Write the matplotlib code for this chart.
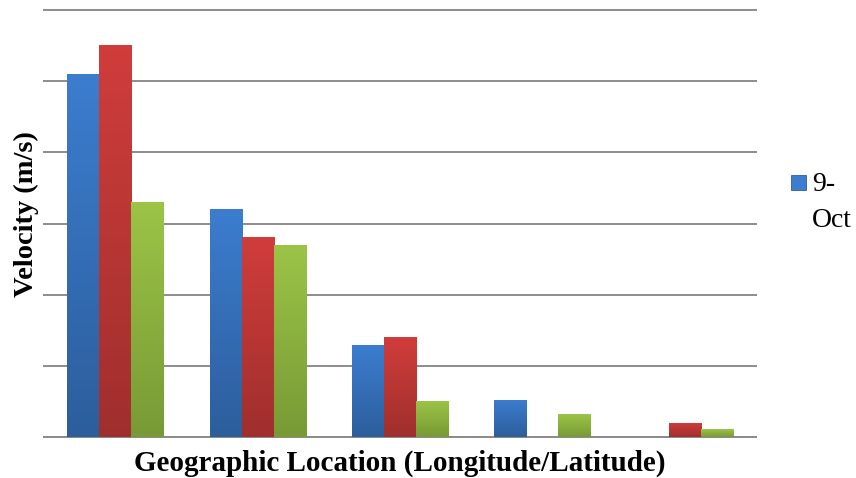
import numpy as np
import matplotlib.pyplot as plt
from matplotlib.patches import Rectangle
from matplotlib.colors import LinearSegmentedColormap

plt.switch_backend('agg')

# Velocity readings per location, one list per series
locations = ['1', '2', '3', '4', '5']
blue_vals = [5.10, 3.20, 1.29, 0.52, 0.0]
red_vals = [5.51, 2.81, 1.40, 0.0, 0.20]
green_vals = [3.30, 2.70, 0.51, 0.32, 0.11]
legend_label = '9-\nOct'

# light (top) -> dark (bottom) shading for each series
shades = [
    ('#3c7dcf', '#2c5e9c'),
    ('#d03d3b', '#9f2f2d'),
    ('#9cc447', '#789a35'),
]

W, H = 856, 478
fig = plt.figure(figsize=(W / 100, H / 100), dpi=100)
ax = fig.add_axes([0.0514, 0.0858, 0.8318, 0.8932])

x = np.arange(len(locations))
width = 0.225
series = [blue_vals, red_vals, green_vals]

for i, vals in enumerate(series):
    offset = (i - 1) * width
    bars = ax.bar(x + offset, vals, width, color=shades[i][0], zorder=3, linewidth=0)
    cmap = LinearSegmentedColormap.from_list('s%d' % i, [shades[i][1], shades[i][0]])
    grad = np.linspace(0, 1, 256).reshape(-1, 1)
    for b in bars:
        h = b.get_height()
        if h <= 0:
            continue
        x0 = b.get_x()
        im = ax.imshow(grad, extent=[x0, x0 + b.get_width(), 0, h], origin='lower',
                       cmap=cmap, aspect='auto', zorder=3.5)
        im.set_clip_path(b)

ax.set_xlim(-0.5, len(locations) - 0.5)
ax.set_ylim(0, 6)
ax.set_yticks(np.arange(0, 7, 1))
ax.set_xticks([])
ax.tick_params(axis='y', length=0, labelleft=False)
ax.yaxis.grid(True, color='#8c8c8c', linewidth=1.4, zorder=0)
for gl in ax.get_ygridlines():
    gl.set_clip_on(False)
ax.set_axisbelow(True)
for s in ['top', 'right', 'left']:
    ax.spines[s].set_visible(False)
ax.spines['bottom'].set_color('#8c8c8c')
ax.spines['bottom'].set_linewidth(1.4)

ax.set_xlabel('Geographic Location (Longitude/Latitude)', family='Liberation Serif',
              fontsize=21, fontweight='bold', labelpad=9)
ax.set_ylabel('Velocity (m/s)', family='Liberation Serif',
              fontsize=20.5, fontweight='bold')
ax.yaxis.set_label_coords(-0.007, 0.522)

# legend: only the first series carries a label
fig.add_artist(Rectangle((791 / W, 1 - 190 / H), 15 / W, 15 / H, transform=fig.transFigure,
                         facecolor=shades[0][0], edgecolor=shades[0][1], linewidth=0.6))
fig.text(812 / W, 1 - 172 / H, legend_label, family='Liberation Serif', fontsize=20,
         va='top', ha='left', linespacing=1.6)

fig.savefig('out.png', dpi=100)
